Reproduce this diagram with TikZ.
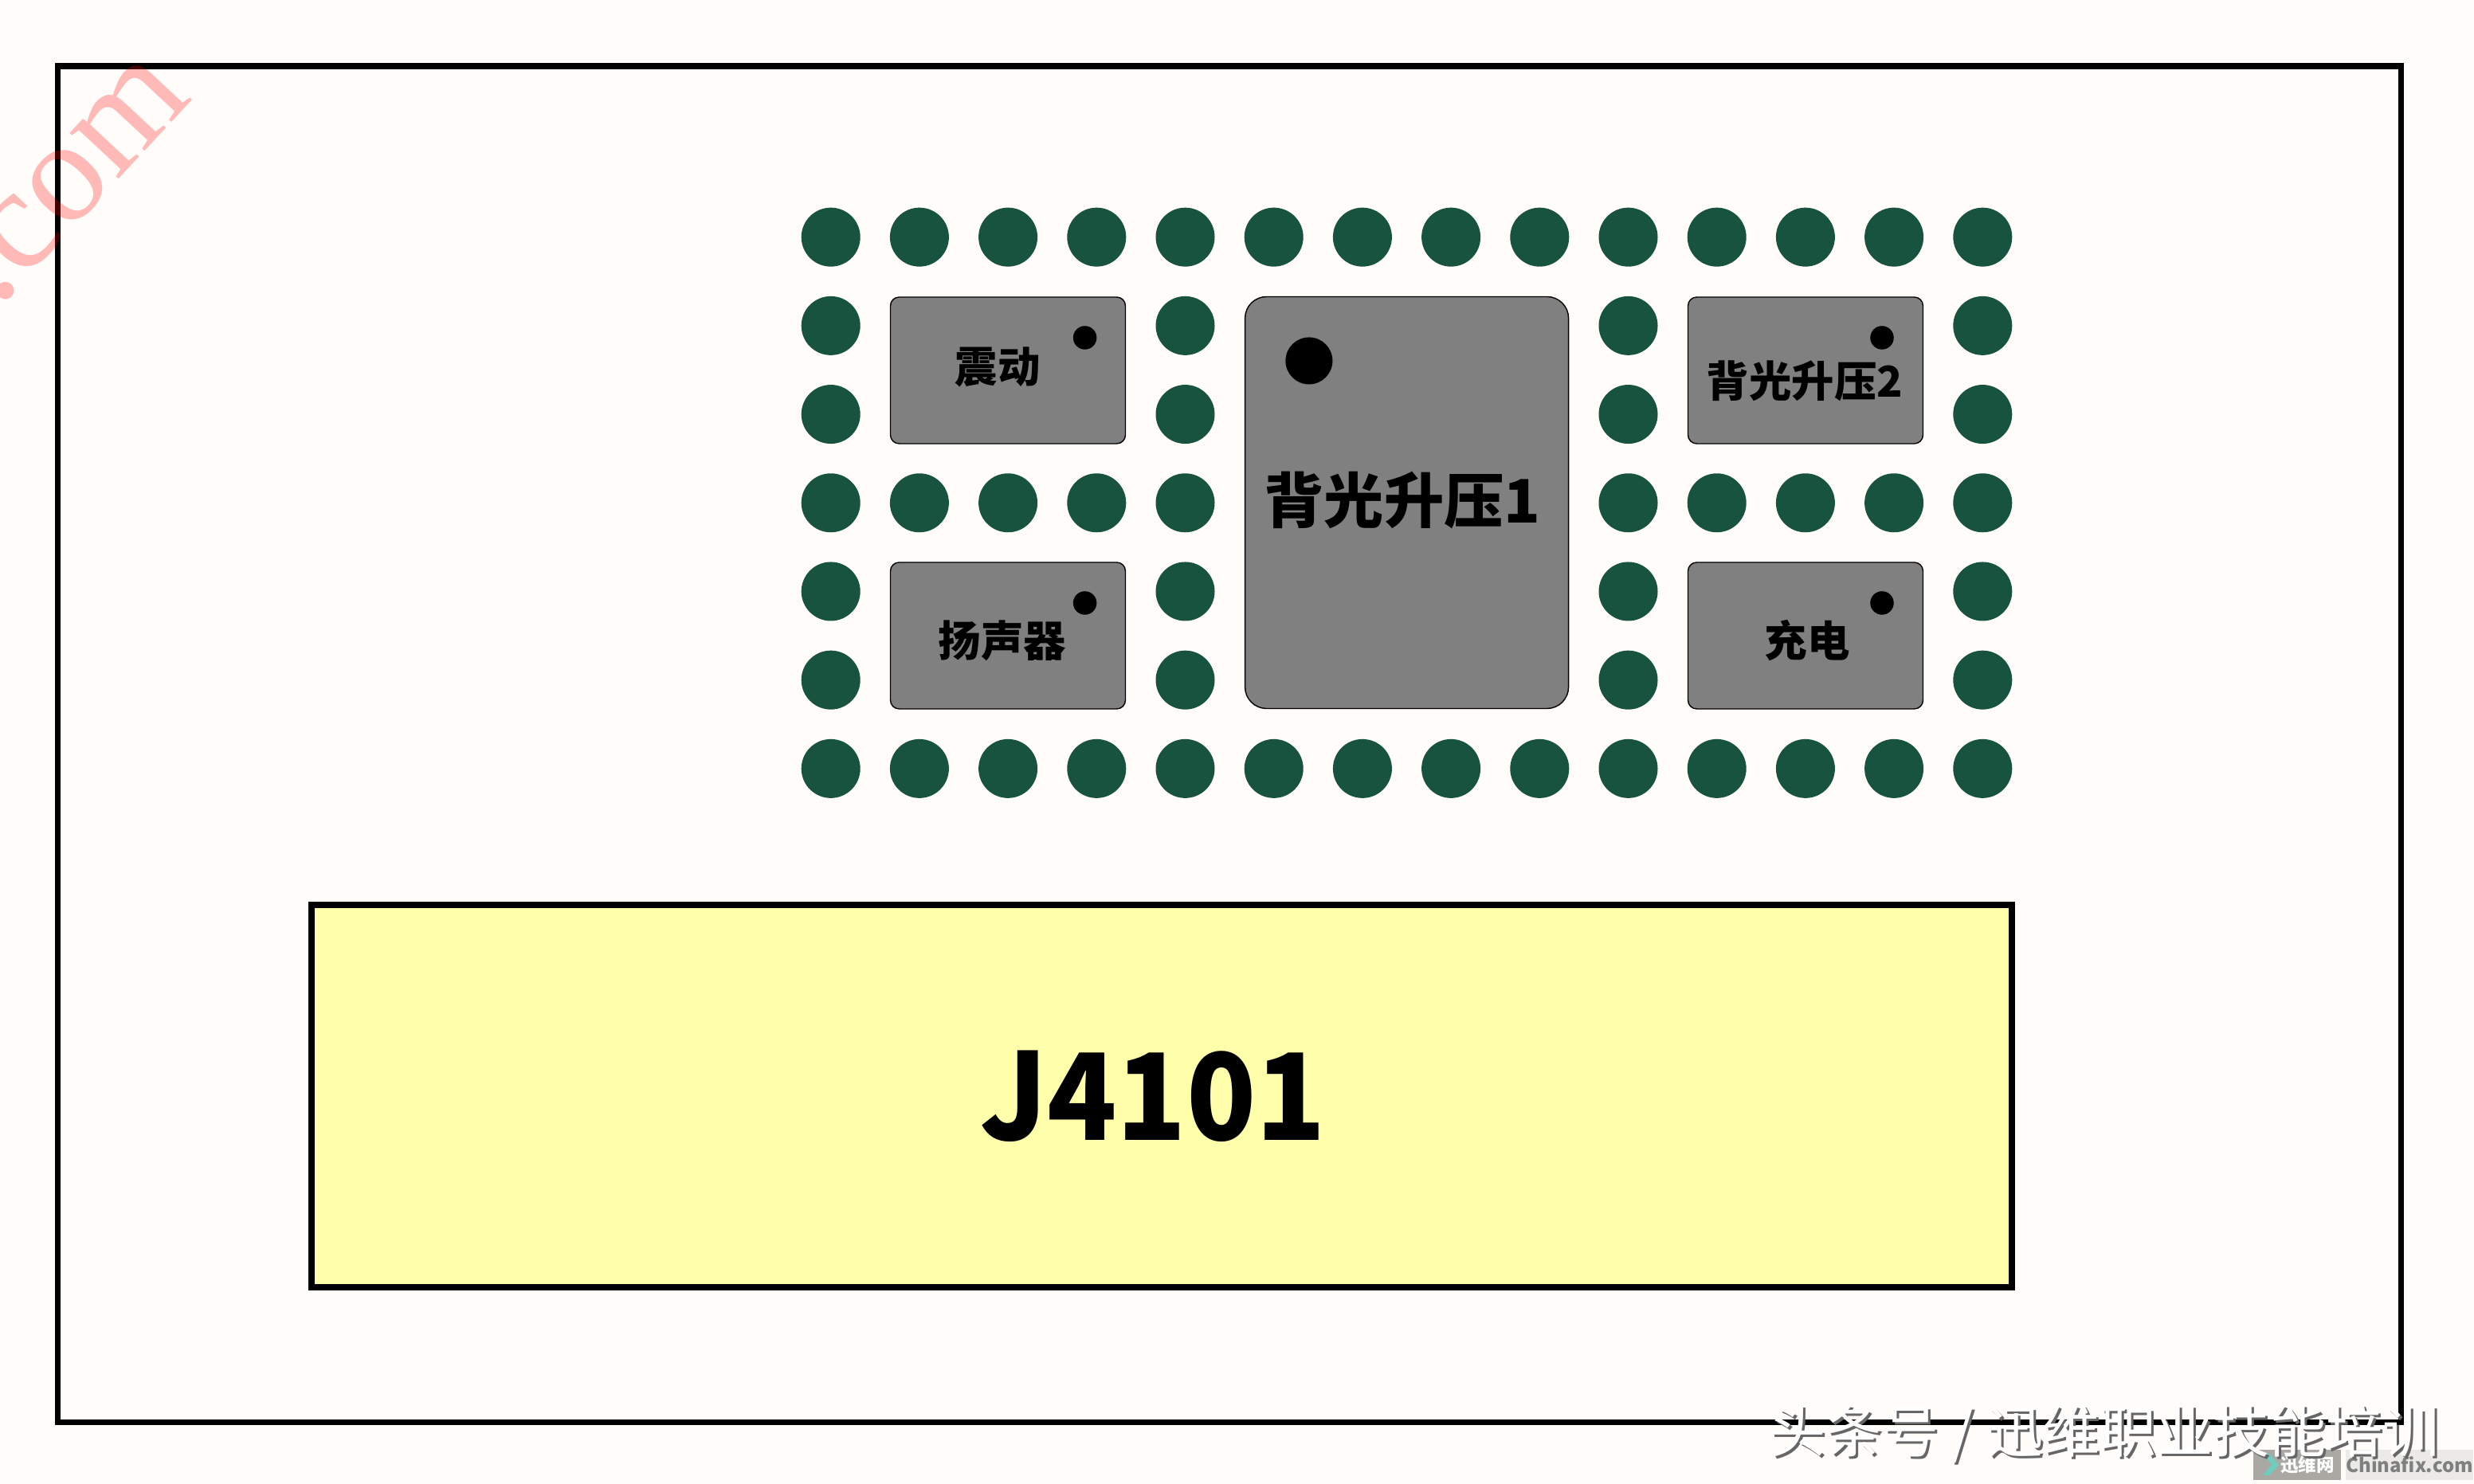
\documentclass[tikz,border=0pt]{standalone}
\usepackage{fontspec}
\setmainfont{Noto Sans CJK SC}
\newfontfamily\narrowfont[FakeStretch=0.95]{Noto Sans CJK SC}
\newfontfamily\sitefont{Liberation Serif}
\usetikzlibrary{positioning}

\definecolor{paper}{RGB}{255,252,249}
\definecolor{paddark}{RGB}{24,83,64}
\definecolor{chipgray}{RGB}{128,128,128}
\definecolor{socket}{RGB}{255,255,171}
\definecolor{logodark}{RGB}{170,168,163}
\definecolor{logolight}{RGB}{236,234,231}
\definecolor{logoteal}{RGB}{110,205,190}

\tikzset{
    pad/.style={circle, fill=paddark, minimum size=0.74cm, inner sep=0pt},
    chip/.style={draw=black, fill=chipgray, line width=0.4pt, rounded corners=0.11cm, minimum width=2.95cm, minimum height=1.84cm, inner sep=0pt},
    pinone/.style={circle, fill=black, minimum size=0.295cm, inner sep=0pt},
    chiplabel/.style={font=\bfseries\fontsize{15.2}{17}\selectfont, inner sep=0pt},
}

\begin{document}
\begin{tikzpicture}
    \useasboundingbox (0,0) rectangle (31.05,18.63);
    \fill[paper] (0,0) rectangle (31.05,18.63);

    % Board outline
    \node (board) [draw=black, line width=0.075cm, minimum width=29.41cm, minimum height=17.025cm, inner sep=0pt] at (15.43,9.285) {};

    % Pads
    \foreach \col in {0,...,13} {
        \node (padt\col) [pad] at (10.427+1.112*\col,15.653) {};
        \node (padb\col) [pad] at (10.427+1.112*\col,8.981) {};
    }
    \foreach \col in {0,4,9,13} {
        \foreach \row in {1,2,4,5} {
            \node (pad\col-\row) [pad] at (10.427+1.112*\col,15.653-1.112*\row) {};
        }
    }
    \foreach \col in {0,1,2,3,4,9,10,11,12,13} {
        \node (padm\col) [pad] at (10.427+1.112*\col,12.317) {};
    }

    % Chips
    \node (vibrate) [chip] at (12.65,13.98) {};
    \node (speaker) [chip] at (12.65,10.65) {};
    \node (boost2) [chip] at (22.66,13.98) {};
    \node (charge) [chip] at (22.66,10.65) {};
    \node (boost1) [chip, rounded corners=0.27cm, minimum width=4.06cm, minimum height=5.17cm] at (17.656,12.32) {};

    % Pin one marks
    \node (pinvibrate) [pinone] at (13.616,14.39) {};
    \node (pinspeaker) [pinone] at (13.616,11.06) {};
    \node (pinboost2) [pinone] at (23.62,14.39) {};
    \node (pincharge) [pinone] at (23.62,11.06) {};
    \node (pinboost1) [pinone, minimum size=0.59cm] at (16.429,14.1) {};

    % Labels
    \node (vibratetext) [chiplabel] at (12.52,14.02) {震动};
    \node (speakertext) [chiplabel] at (12.58,10.59) {扬声器};
    \node (boost2text) [chiplabel] at (22.65,13.85) {背光升压2};
    \node (chargetext) [chiplabel] at (22.68,10.59) {充电};
    \node (boost1text) [chiplabel, font=\bfseries\fontsize{21.4}{23}\selectfont] at (17.6,12.35) {背光升压1};

    % Connector
    \node (j4101) [draw=black, fill=socket, line width=0.075cm, minimum width=21.34cm, minimum height=4.8cm, inner sep=0pt] at (14.58,4.87) {};
    \node (j4101text) [font=\narrowfont\bfseries\fontsize{43}{48}\selectfont, inner sep=0pt] at (14.47,4.87) {J4101};

    % Watermarks
    \node (sitemark) [text=red, text opacity=0.26, rotate=47, font=\sitefont\fontsize{52}{54}\selectfont, inner sep=0pt] at (0.9,16.36) {.com};
    \node (logobox) [fill=logodark, minimum width=1.1cm, minimum height=0.38cm, inner sep=0pt] at (28.83,0.24) {};
    \node (logoname) [right=0.05cm of logobox, fill=logolight, text=black!50, minimum width=1.57cm, minimum height=0.38cm, inner sep=0pt, font=\bfseries\fontsize{6.8}{8}\selectfont] {Chinafix.com};
    \node (logotitle) [text=white, inner sep=0pt, font=\bfseries\fontsize{6.4}{8}\selectfont] at (28.96,0.24) {迅维网};
    \fill[logoteal] (28.40,0.38) -- (28.48,0.38) -- (28.60,0.24) -- (28.48,0.11) -- (28.40,0.11) -- (28.51,0.24) -- cycle;
    \node (shadowmark) [text=black!60, font=\fontsize{20.2}{24}\selectfont, inner sep=0pt] at (26.44,0.6) {头条号 / 迅维职业技能培训};
    \node (tagmark) [text=white, font=\fontsize{20.2}{24}\selectfont, inner sep=0pt] at (26.41,0.63) {头条号 / 迅维职业技能培训};
\end{tikzpicture}
\end{document}
